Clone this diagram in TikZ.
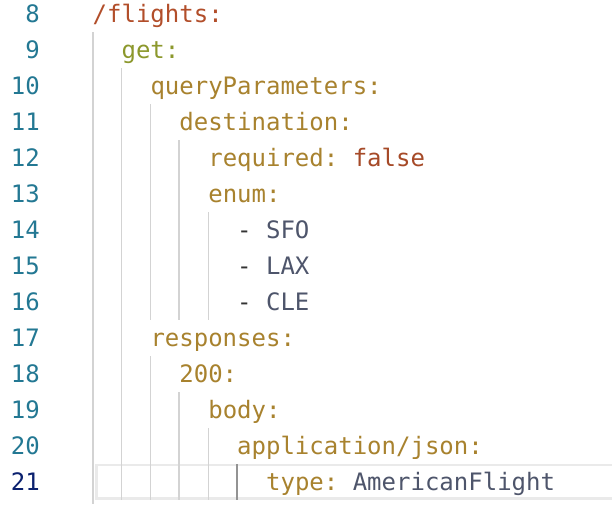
\documentclass[tikz,border=0pt]{standalone}
\usepackage{fontspec}
\setmonofont{DejaVu Sans Mono}
\usetikzlibrary{positioning}
\definecolor{numcol}{HTML}{237893}
\definecolor{numact}{HTML}{0B216F}
\definecolor{pathcol}{HTML}{B24E2A}
\definecolor{verbcol}{HTML}{8C982C}
\definecolor{keycol}{HTML}{A8822E}
\definecolor{boolcol}{HTML}{A64A28}
\definecolor{valcol}{HTML}{4E556B}
\definecolor{dashcol}{HTML}{333333}
\definecolor{guidecol}{HTML}{D3D3D3}
\definecolor{guideact}{HTML}{939393}
\definecolor{linebox}{HTML}{EAEAEA}

\begin{document}
\begin{tikzpicture}[x=1pt, y=-1pt,
    code/.style={anchor=base west, inner sep=0pt, font=\ttfamily\fontsize{24}{24}\selectfont},
    lineno/.style={anchor=base east, inner sep=0pt, text=numcol, font=\ttfamily\fontsize{24}{24}\selectfont},
    guide/.style={draw=guidecol, line width=1.5pt},
    activeguide/.style={draw=guideact, line width=1.5pt}]
      \fill[white] (0,0) rectangle (612,504);
      \useasboundingbox (0,0) rectangle (612,504);
      % current line
      \draw[linebox, line width=2.5pt] (96.5,465) rectangle (616,498.5);
      % indent guides
      \draw[guide] (92.8,32) -- (92.8,504);
      \draw[guide] (121.4,68) -- (121.4,500);
      \draw[guide] (150.5,104) -- (150.5,320);
      \draw[guide] (179.2,140) -- (179.2,320);
      \draw[guide] (208.6,212) -- (208.6,320);
      \draw[guide] (150.5,356) -- (150.5,500);
      \draw[guide] (179.2,392) -- (179.2,500);
      \draw[guide] (208.6,428) -- (208.6,500);
      \draw[activeguide] (236.8,464) -- (236.8,500);
      \begin{scope}[every node/.style={lineno}]
        \node (n8)  at (40,22)  {8};
        \node (n9)  at (40,58)  {9};
        \node (n10) at (40,94)  {10};
        \node (n11) at (40,130) {11};
        \node (n12) at (40,166) {12};
        \node (n13) at (40,202) {13};
        \node (n14) at (40,238) {14};
        \node (n15) at (40,274) {15};
        \node (n16) at (40,310) {16};
        \node (n17) at (40,346) {17};
        \node (n18) at (40,382) {18};
        \node (n19) at (40,418) {19};
        \node (n20) at (40,454) {20};
        \node (n21) [text=numact] at (40,490) {21};
      \end{scope}
      \begin{scope}[every node/.style={code, text=keycol}]
        \node (flights) [text=pathcol] at (92.5,22) {/flights:};
        \node (get) [text=verbcol] at (121.4,58) {get:};
        \node (query) at (150.3,94) {queryParameters:};
        \node (dest) at (179.2,130) {destination:};
        \node (req) at (208.1,166) {required:\ \textcolor{boolcol}{false}};
        \node (enum) at (208.1,202) {enum:};
        \node (sfo) at (237,238) {\textcolor{dashcol}{-}\ \textcolor{valcol}{SFO}};
        \node (lax) at (237,274) {\textcolor{dashcol}{-}\ \textcolor{valcol}{LAX}};
        \node (cle) at (237,310) {\textcolor{dashcol}{-}\ \textcolor{valcol}{CLE}};
        \node (resp) at (150.3,346) {responses:};
        \node (ok) at (179.2,382) {200:};
        \node (body) at (208.1,418) {body:};
        \node (json) at (237,454) {application/json:};
        \node (type) at (265.9,490) {type:\ \textcolor{valcol}{AmericanFlight}};
      \end{scope}
    \end{tikzpicture}
\end{document}
